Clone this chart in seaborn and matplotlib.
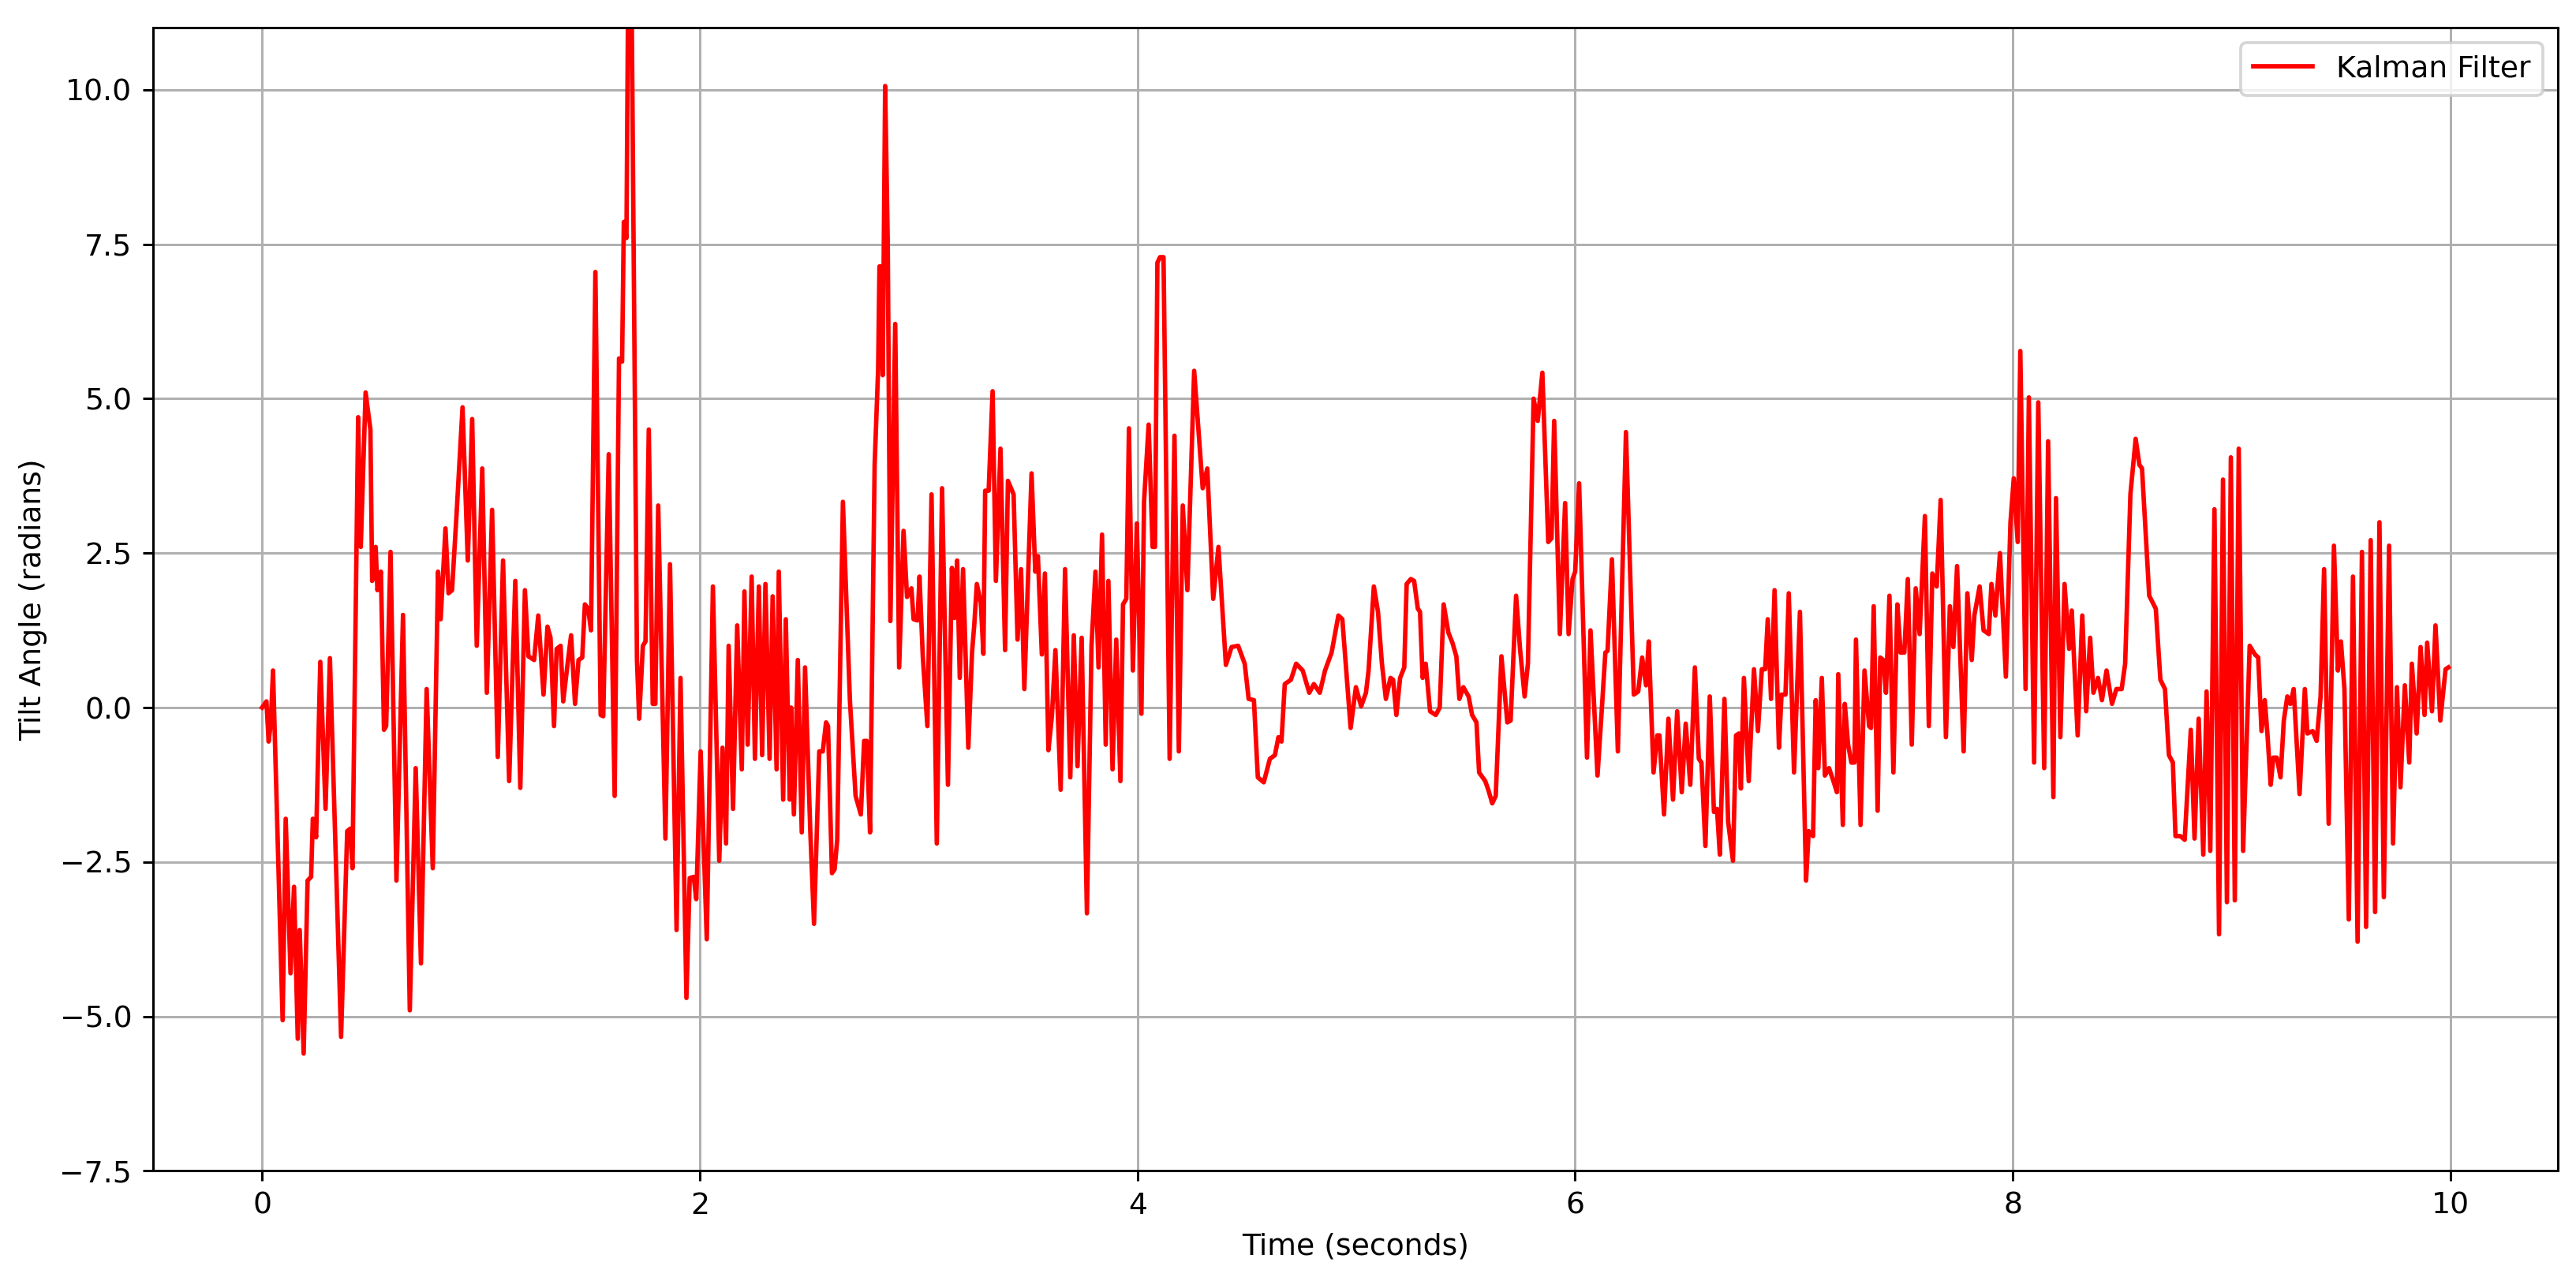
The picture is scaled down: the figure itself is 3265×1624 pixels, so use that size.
import matplotlib
matplotlib.use("Agg")
import matplotlib.pyplot as plt
import pandas as pd
import seaborn as sns

# Kalman filter output (time in s, angle)
time_s = [
    0.00, 0.02, 0.03, 0.04, 0.05, 0.094, 0.108, 0.13, 0.146, 0.163, 0.172, 0.19,
    0.208, 0.224, 0.232, 0.247, 0.266, 0.29, 0.31, 0.361, 0.389, 0.403, 0.413,
    0.439, 0.451, 0.473, 0.495, 0.503, 0.519, 0.527, 0.543, 0.557, 0.567, 0.587,
    0.614, 0.644, 0.675, 0.702, 0.726, 0.752, 0.78, 0.804, 0.816, 0.838, 0.852,
    0.868, 0.889, 0.916, 0.94, 0.96, 0.981, 1.006, 1.027, 1.051, 1.077, 1.101,
    1.129, 1.157, 1.18, 1.201, 1.217, 1.243, 1.262,
    1.286, 1.304, 1.318, 1.334, 1.346, 1.364, 1.376, 1.398, 1.412, 1.43, 1.446,
    1.463, 1.475, 1.49, 1.503, 1.523, 1.547, 1.559, 1.584, 1.611, 1.631, 1.645,
    1.653, 1.665, 1.673, 1.689, 1.713, 1.723, 1.74, 1.752, 1.767, 1.785, 1.797,
    1.81, 1.843, 1.864, 1.894, 1.912, 1.939, 1.954, 1.972, 1.984, 2.004, 2.032,
    2.06, 2.089, 2.104, 2.12, 2.132, 2.152, 2.171, 2.192, 2.204, 2.219, 2.237,
    2.252, 2.27, 2.285, 2.3, 2.319, 2.333, 2.351, 2.361, 2.381, 2.393, 2.411,
    2.417, 2.43, 2.448, 2.466, 2.481, 2.505, 2.522,
    2.546, 2.562, 2.577, 2.586, 2.604, 2.616, 2.628, 2.654, 2.686, 2.712, 2.736,
    2.751, 2.763, 2.778, 2.799, 2.815, 2.821, 2.829, 2.836, 2.847, 2.859, 2.871,
    2.893, 2.911, 2.931, 2.947, 2.967, 2.977, 2.995, 3.004, 3.019, 3.04, 3.059,
    3.083, 3.107, 3.134, 3.152, 3.164, 3.176, 3.188, 3.203, 3.227, 3.244, 3.254,
    3.266, 3.284, 3.296, 3.304, 3.32, 3.338, 3.353, 3.374, 3.395, 3.408, 3.434,
    3.452, 3.468, 3.483, 3.516, 3.533, 3.545, 3.563, 3.577, 3.593, 3.609, 3.625,
    3.649, 3.669, 3.693, 3.709, 3.726, 3.745, 3.769, 3.79, 3.808, 3.822, 3.838,
    3.855, 3.867, 3.886, 3.903, 3.922, 3.934, 3.949, 3.961, 3.979, 3.997, 4.018,
    4.03, 4.051, 4.069, 4.08, 4.091, 4.103, 4.119, 4.147, 4.169, 4.189, 4.207,
    4.228, 4.259, 4.298, 4.319, 4.346, 4.37, 4.404, 4.43, 4.46, 4.49, 4.508,
    4.532, 4.55, 4.577, 4.605, 4.628, 4.644, 4.658, 4.673, 4.701, 4.725, 4.755,
    4.785, 4.806, 4.833, 4.857, 4.887, 4.918, 4.936, 4.954, 4.974, 4.998, 5.022,
    5.044, 5.056, 5.08,
    5.099, 5.117, 5.135, 5.156, 5.168, 5.183, 5.2, 5.219, 5.23, 5.249, 5.264,
    5.281, 5.291, 5.303, 5.317, 5.337, 5.363, 5.381, 5.399, 5.421, 5.439, 5.457,
    5.471, 5.489, 5.513, 5.529, 5.549, 5.561, 5.589, 5.603, 5.621, 5.637, 5.663,
    5.69, 5.705, 5.73, 5.748, 5.769, 5.784, 5.81, 5.829, 5.85, 5.877, 5.892,
    5.904, 5.93, 5.954, 5.97, 5.988, 6.0, 6.018, 6.054, 6.07, 6.102, 6.12, 6.138,
    6.148, 6.168, 6.195, 6.232, 6.268, 6.288, 6.306, 6.324, 6.336, 6.358, 6.375,
    6.385,
    6.406, 6.426, 6.447, 6.466, 6.487, 6.505, 6.526, 6.547, 6.565, 6.577, 6.595,
    6.615, 6.634, 6.648, 6.661, 6.682, 6.699, 6.721, 6.735, 6.748, 6.757, 6.771,
    6.793, 6.817, 6.835, 6.853, 6.868, 6.88, 6.895, 6.911, 6.931, 6.943, 6.961,
    6.976, 7.0, 7.027, 7.055, 7.067, 7.087, 7.099, 7.111, 7.127, 7.141, 7.16,
    7.18, 7.196, 7.202, 7.223, 7.232, 7.247, 7.262, 7.276, 7.283, 7.304, 7.322,
    7.343, 7.352, 7.364, 7.382, 7.394, 7.408, 7.42, 7.436, 7.454, 7.472, 7.487,
    7.504, 7.52, 7.538, 7.556, 7.574, 7.598, 7.616, 7.632, 7.652, 7.67, 7.694,
    7.712, 7.728, 7.745,
    7.775, 7.792, 7.812, 7.824, 7.848, 7.866, 7.89, 7.902, 7.92, 7.941, 7.968,
    7.989, 8.004, 8.022, 8.034, 8.058, 8.073, 8.097, 8.116, 8.143, 8.161, 8.185,
    8.197, 8.217, 8.236, 8.257, 8.269, 8.296, 8.317, 8.335, 8.353, 8.368, 8.389,
    8.407, 8.428, 8.453, 8.473, 8.497, 8.513, 8.537, 8.561, 8.578, 8.59, 8.623,
    8.653, 8.674, 8.695, 8.713, 8.731, 8.743, 8.765, 8.785, 8.813, 8.83, 8.849,
    8.87, 8.885, 8.902, 8.921, 8.942, 8.96, 8.978, 8.996, 9.014, 9.032, 9.052,
    9.082, 9.106, 9.121, 9.136, 9.151, 9.163, 9.178, 9.19, 9.206, 9.223, 9.238,
    9.254, 9.268, 9.283, 9.31, 9.334, 9.346, 9.37, 9.388, 9.406, 9.422, 9.443,
    9.467, 9.485, 9.499, 9.515, 9.535, 9.554, 9.575, 9.595, 9.614, 9.635, 9.655,
    9.675, 9.695, 9.719, 9.737, 9.755, 9.771, 9.791, 9.811, 9.823, 9.845, 9.863,
    9.881, 9.893, 9.915, 9.931, 9.953, 9.977, 9.99,
]

tilt_angle = [
    0.0, 0.1, -0.55, -0.25, 0.6, -5.06, -1.8, -4.3, -2.9, -5.36, -3.6, -5.6,
    -2.8, -2.74, -1.8, -2.1, 0.74, -1.64, 0.8, -5.33, -2.0, -1.96, -2.6,
    4.7, 2.6, 5.1, 4.5, 2.05, 2.6, 1.9, 2.2, -0.36, -0.3, 2.52,
    -2.8, 1.5, -4.9, -0.98, -4.14, 0.3, -2.6, 2.2, 1.43, 2.9, 1.85,
    1.9, 3.15, 4.86, 2.38, 4.67, 1.0, 3.87, 0.24, 3.2, -0.8, 2.38,
    -1.19, 2.05, -1.3, 1.9, 0.83, 0.77, 1.49,
    0.21, 1.31, 1.13, -0.3, 0.95, 1.0, 0.1, 0.77, 1.17, 0.06, 0.77,
    0.81, 1.67, 1.6, 1.25, 7.05, -0.12, -0.14, 4.1, -1.43, 5.65, 5.6,
    7.86, 7.6, 11.8, 11.3, 0.77, -0.18, 1.0, 1.07, 4.5, 0.06, 0.06,
    3.27, -2.12, 2.32, -3.6, 0.48, -4.7, -2.76, -2.74, -3.1, -0.71, -3.75,
    1.96, -2.48, -0.65, -2.2, 1.0, -1.64, 1.33, -1.0, 1.88, -0.6, 2.12,
    -0.83, 1.96, -0.77, 2.0, -0.83, 1.8, -1.0, 2.2, -1.49, 1.43, -1.49,
    0.0, -1.73, 0.77, -2.02, 0.65, -2.0, -3.5,
    -0.71, -0.71, -0.24, -0.3, -2.68, -2.62, -2.14, 3.33, 0.12, -1.43, -1.73,
    -0.54, -0.54, -2.02, 3.93, 5.48, 7.14, 7.14, 5.38, 10.06, 7.5, 1.4,
    6.21, 0.65, 2.86, 1.79, 1.93, 1.43, 1.41, 2.12, 0.83, -0.3, 3.45,
    -2.2, 3.55, -1.25, 2.26, 1.45, 2.38, 0.48, 2.24, -0.65, 0.89, 1.33,
    2.0, 1.7, 0.87, 3.51, 3.51, 5.12, 2.05, 4.19, 0.93, 3.67, 3.45,
    1.1, 2.24, 0.3, 3.79, 2.2, 2.45, 0.86, 2.17, -0.69, -0.14, 0.93,
    -1.33, 2.24, -1.13, 1.17, -0.95, 1.13, -3.33, 1.0, 2.2, 0.65, 2.8,
    -0.6, 2.05, -1.0, 1.1, -1.19, 1.67, 1.76, 4.52, 0.6, 2.98, -0.1,
    3.33, 4.58, 2.6, 2.6, 7.2, 7.29, 7.29, -0.83, 4.4, -0.71, 3.27,
    1.9, 5.45, 3.55, 3.87, 1.76, 2.6, 0.69, 0.98, 1.0, 0.71, 0.14,
    0.12, -1.13, -1.21, -0.83, -0.77, -0.48, -0.55, 0.38, 0.45, 0.71, 0.6,
    0.24, 0.38, 0.24, 0.6, 0.89, 1.49, 1.43, 0.6, -0.33, 0.33, 0.02,
    0.24, 0.6, 1.96,
    1.55, 0.71, 0.14, 0.48, 0.45, -0.12, 0.48, 0.65, 2.0, 2.08, 2.05,
    1.6, 1.55, 0.48, 0.71, -0.06, -0.12, 0.0, 1.67, 1.21, 1.05, 0.83,
    0.14, 0.33, 0.18, -0.12, -0.24, -1.05, -1.19, -1.33, -1.55, -1.43, 0.83,
    -0.24, -0.21, 1.81, 0.95, 0.18, 0.71, 5.0, 4.64, 5.42, 2.68, 2.74,
    4.64, 1.19, 3.31, 1.19, 2.08, 2.2, 3.63, -0.81, 1.25, -1.1, -0.12, 0.89,
    0.92, 2.4, -0.71, 4.46, 0.21, 0.26, 0.81, 0.36, 1.07, -1.05, -0.45,
    -0.45,
    -1.73, -0.18, -1.49, -0.06, -1.37, -0.26, -1.25, 0.65, -0.83, -0.89, -2.24,
    0.18, -1.69, -1.64, -2.38, 0.14, -1.85, -2.48, -0.45, -0.42, -1.31, 0.48,
    -1.19, 0.62, -0.38, 0.62, 0.62, 1.43, 0.14, 1.9, -0.65, 0.21, 0.21,
    1.85, -1.05, 1.55, -2.8, -2.0, -2.08, 0.12, -0.98, 0.48, -1.1, -0.98,
    -1.19, -1.37, 0.54, -1.9, 0.06, -0.6, -0.89, -0.89, 1.1, -1.9, 0.6,
    -0.3, -0.33, 1.64, -1.67, 0.81, 0.77, 0.24, 1.81, -1.05, 1.67, 0.89,
    0.89, 2.08, -0.6, 1.93, 1.19, 3.1, -0.3, 2.17, 1.96, 3.36, -0.48,
    1.64, 0.98, 2.29,
    -0.71, 1.85, 0.77, 1.49, 1.96, 1.25, 1.19, 2.0, 1.49, 2.5, 0.5,
    3.0, 3.71, 2.68, 5.77, 0.3, 5.02, -0.89, 4.94, -0.98, 4.31, -1.45,
    3.39, -0.48, 2.0, 0.95, 1.57, -0.45, 1.49, -0.06, 1.13, 0.24, 0.48,
    0.12, 0.6, 0.06, 0.3, 0.3, 0.71, 3.45, 4.35, 3.93, 3.87, 1.81,
    1.6, 0.45, 0.3, -0.77, -0.89, -2.08, -2.08, -2.14, -0.36, -2.12, -0.18,
    -2.38, 0.26, -2.32, 3.21, -3.67, 3.69, -3.15, 4.05, -3.12, 4.19, -2.32,
    1.0, 0.86, 0.81, -0.38, 0.12, -0.42, -1.25, -0.81, -0.81, -1.13, -0.21,
    0.18, 0.06, 0.3, -1.4, 0.3, -0.42, -0.38, -0.54, 0.18, 2.24, -1.88,
    2.62, 0.6, 1.07, 0.3, -3.43, 2.12, -3.79, 2.52, -3.55, 2.71, -3.31,
    3.0, -3.07, 2.62, -2.2, 0.33, -1.29, 0.36, -0.89, 0.71, -0.42, 0.98,
    -0.12, 1.05, -0.06, 1.33, -0.21, 0.62, 0.65,
]

df = pd.DataFrame({"Time (seconds)": time_s, "Tilt Angle (radians)": tilt_angle})

fig, ax = plt.subplots(figsize=(3265 / 272, 1624 / 272), dpi=272)
sns.lineplot(data=df, x="Time (seconds)", y="Tilt Angle (radians)",
             color="red", linewidth=1.5, estimator=None, sort=False,
             label="Kalman Filter", ax=ax)

ax.set_ylim(-7.5, 11)
ax.set_yticks([-7.5, -5.0, -2.5, 0.0, 2.5, 5.0, 7.5, 10.0])
ax.grid(True)
ax.legend(loc="upper right")

fig.subplots_adjust(left=0.0593, right=0.9929, bottom=0.0859, top=0.9782)
fig.savefig("out.png", dpi=272)
